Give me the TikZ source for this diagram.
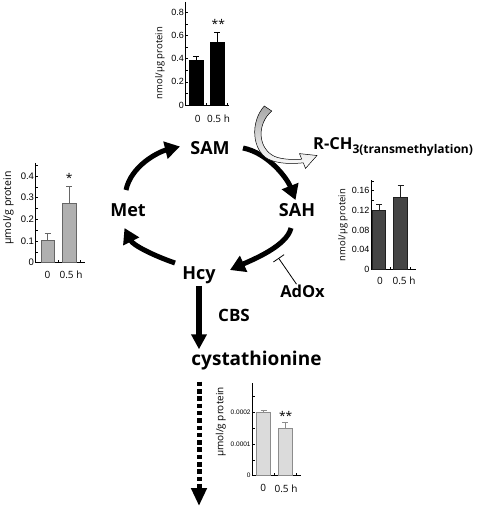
\documentclass[tikz,border=0pt]{standalone}
\usepackage{fontspec}
\setmainfont{Open Sans}
\newfontfamily\tickfont{Liberation Sans}
\usetikzlibrary{arrows.meta}
\definecolor{ftwo}{gray}{0.69}
\definecolor{dtwo}{gray}{0.40}
\definecolor{fthree}{gray}{0.27}
\definecolor{dthree}{gray}{0.12}
\definecolor{ffour}{gray}{0.86}
\definecolor{dfour}{gray}{0.55}
\begin{document}
\begin{tikzpicture}[x=1pt,y=-1pt,
  lbl/.style={font=\bfseries\fontsize{18}{20}\selectfont, inner sep=0pt},
  cyc/.style={line width=5pt, -{Triangle[length=15pt,width=17pt]}},
  downarr/.style={line width=6pt, -{Triangle[length=15pt,width=15pt]}},
  dotarr/.style={line width=5pt, dash pattern=on 4.5pt off 2.8pt, -{Triangle[length=18pt,width=15pt]}},
  inhib/.style={line width=0.8pt, -{Bar[width=13pt,line width=0.8pt]}},
  ax/.style={line width=0.6pt},
  tk/.style={line width=0.5pt},
  tl/.style={font=\tickfont\fontsize{9}{9}\selectfont, anchor=east, inner sep=1.5pt},
  yl/.style={rotate=90, inner sep=0pt},
  xl/.style={font=\fontsize{10}{10}\selectfont, inner sep=0pt},
  sig/.style={font=\fontsize{12}{12}\selectfont, inner sep=0pt},
  eb/.style={line width=0.6pt},
]
\useasboundingbox (0,0) rectangle (480,507);

% ---------- metabolite labels ----------
\node[lbl] (SAM) at (210,148) {SAM};
\node[lbl] (Met) at (128,210) {Met};
\node[lbl] (SAH) at (297,210) {SAH};
\node[lbl] (Hcy) at (199,275) {Hcy};
\node[lbl,font=\bfseries\fontsize{17}{18}\selectfont] (CBS) at (234,315) {CBS};
\node[lbl,font=\bfseries\fontsize{16.5}{18}\selectfont] (AdOx) at (302.5,291.7) {AdOx};
\node[lbl,font=\bfseries\fontsize{19}{20}\selectfont] (cyst) at (256.5,361) {cystathionine};
\node[anchor=base west, inner sep=0pt] (rch) at (313,149.3)
  {{\bfseries\fontsize{16.5}{17}\selectfont R-CH}\raisebox{-4.5pt}{\bfseries\fontsize{12}{13}\selectfont 3(transmethylation)}};

% ---------- cycle ----------
\coordinate (p1) at (126,190);
\coordinate (p2) at (180,146.5);
\coordinate (p3) at (243,148);
\coordinate (p4) at (295.5,200);
\coordinate (p5) at (291,228);
\coordinate (p6) at (230,270);
\coordinate (p7) at (175,263);
\coordinate (p8) at (124.5,228);
\draw[cyc] (p1) .. controls (131,166) and (158,152) .. (p2);
\draw[cyc] (p3) .. controls (268,153) and (287,178) .. (p4);
\draw[cyc] (p5) .. controls (287,246) and (252,260) .. (p6);
\draw[cyc] (p7) .. controls (152,255) and (133,245) .. (p8);

\coordinate (c1) at (Hcy.south |- cyst.north);
\coordinate (c2) at (Hcy.south |- cyst.south);
\coordinate (dotend) at (199,506);
\draw[downarr] ([yshift=-2pt]Hcy.south) -- ([yshift=2pt]c1);
\draw[dotarr] ([yshift=-11pt]c2) -- (dotend);

\coordinate (inh) at (278.5,258);
\draw[inhib] ([xshift=-6pt,yshift=1pt]AdOx.north) -- (inh);

% ---------- transmethylation arrow ----------
\shade[draw=black, line width=0.5pt, top color=gray!70, bottom color=white, middle color=gray!30]
  (264.3,106) .. controls (250,122) and (252,150) .. (268,159)
  .. controls (278,164) and (292,164) .. (303.3,162.8)
  -- (305.5,168.4) -- (317,155.5) -- (299.5,153.6) -- (301.7,159.2)
  .. controls (290,160) and (278,159) .. (272,155)
  .. controls (258,146) and (257,124) .. (271.7,111) -- cycle;

% ---------- chart 1 (SAM) ----------
\begin{scope}[shift={(185.7,105)},x=1pt,y=115.9pt]
  \foreach \v in {0.1,0.2,...,0.81} \draw[tk] (0,\v) -- ++(2.5pt,0pt);
  \foreach \v [count=\i] in {0,0.2,0.4,0.6,0.8} \node[tl] (ka\i) at (0,\v) {\v};
  \draw[ax] (0,0.89) -- (0,0) -- (43,0);
  \draw[tk] (21,0) -- ++(0pt,2.5pt) (41.5,0) -- ++(0pt,2.5pt);
  \draw[eb, fill=black] (3.6,0) rectangle (17.6,0.39);
  \draw[eb, fill=black] (24.3,0) rectangle (38.3,0.54);
  \draw[eb] (10.6,0.39) -- (10.6,0.42) ++(-3pt,0pt) -- ++(6pt,0pt);
  \draw[eb] (31.3,0.54) -- (31.3,0.63) ++(-3pt,0pt) -- ++(6pt,0pt);
\end{scope}
\node[sig] (sa) at (218.3,24) {**};
\node[xl] (xa1) at (197.7,118.7) {0};
\node[xl] (xa2) at (218.5,118.7) {0.5 h};
\node[yl, font=\fontsize{9.5}{10}\selectfont] (ya) at (160,63) {nmol/µg protein};

% ---------- chart 2 (Met) ----------
\begin{scope}[shift={(35.7,262.7)},x=1pt,y=217pt]
  \foreach \v in {0.05,0.1,...,0.451} \draw[tk] (0,\v) -- ++(2.5pt,0pt);
  \foreach \v [count=\i] in {0,0.1,0.2,0.3,0.4} \node[tl,font=\tickfont\fontsize{9.5}{10}\selectfont] (kb\i) at (0,\v) {\v};
  \draw[ax] (0,0.46) -- (0,0) -- (49.3,0);
  \draw[tk] (22.6,0) -- ++(0pt,2.5pt) (44.3,0) -- ++(0pt,2.5pt);
  \draw[eb, draw=dtwo, fill=ftwo] (5.3,0) rectangle (18.6,0.105);
  \draw[eb, draw=dtwo, fill=ftwo] (27,0) rectangle (40.3,0.275);
  \draw[eb, draw=dtwo] (11.95,0.105) -- (11.95,0.135) ++(-3pt,0pt) -- ++(6pt,0pt);
  \draw[eb, draw=dtwo] (33.65,0.275) -- (33.65,0.35) ++(-3pt,0pt) -- ++(6pt,0pt);
\end{scope}
\node[sig] (sb) at (69.3,178) {*};
\node[xl] (xb1) at (47.5,274.5) {0};
\node[xl] (xb2) at (71,274.5) {0.5 h};
\node[yl, font=\fontsize{10.5}{11}\selectfont] (yb) at (8.5,208) {µmol/g protein};

% ---------- chart 3 (SAH) ----------
\begin{scope}[shift={(371,269.3)},x=1pt,y=492pt]
  \foreach \v in {0.02,0.04,...,0.181} \draw[tk] (0,\v) -- ++(2.5pt,0pt);
  \foreach \v [count=\i] in {0,0.04,0.08,0.12,0.16} \node[tl] (kc\i) at (0,\v) {\v};
  \draw[ax] (0,0.181) -- (0,0) -- (45,0);
  \draw[tk] (19.7,0) -- ++(0pt,2.5pt) (39.7,0) -- ++(0pt,2.5pt);
  \draw[eb, draw=dthree, fill=fthree] (1.7,0) rectangle (14.7,0.12);
  \draw[eb, draw=dthree, fill=fthree] (22.3,0) rectangle (36.7,0.147);
  \draw[eb, draw=dthree] (8.2,0.12) -- (8.2,0.133) ++(-3pt,0pt) -- ++(6pt,0pt);
  \draw[eb, draw=dthree] (29.5,0.147) -- (29.5,0.17) ++(-3pt,0pt) -- ++(6pt,0pt);
\end{scope}
\node[xl] (xc1) at (380,280.7) {0};
\node[xl] (xc2) at (404,280.7) {0.5 h};
\node[yl, font=\fontsize{9.5}{10}\selectfont] (yc) at (343,225) {nmol/µg protein};

% ---------- chart 4 (cystathionine) ----------
\begin{scope}[shift={(252.3,475.7)},x=1pt,y=31.7pt]
  \foreach \v in {0.5,1,...,2.6} \draw[tk] (0,\v) -- ++(2.5pt,0pt);
  \node[tl,font=\tickfont\fontsize{6.5}{7}\selectfont] (kd1) at (0,0) {0};
  \node[tl,font=\tickfont\fontsize{6.5}{7}\selectfont] (kd2) at (0,1) {0.0001};
  \node[tl,font=\tickfont\fontsize{6.5}{7}\selectfont] (kd3) at (0,2) {0.0002};
  \draw[ax] (0,2.91) -- (0,0) -- (48.7,0);
  \draw[tk] (22,0) -- ++(0pt,2.5pt) (44.4,0) -- ++(0pt,2.5pt);
  \draw[eb, draw=dfour, fill=ffour] (4.4,0) rectangle (18.4,2.0);
  \draw[eb, draw=dfour, fill=ffour] (26,0) rectangle (40,1.48);
  \draw[eb, draw=dfour] (11.4,2.0) -- (11.4,2.05) ++(-3pt,0pt) -- ++(6pt,0pt);
  \draw[eb, draw=dfour] (33,1.48) -- (33,1.67) ++(-3pt,0pt) -- ++(6pt,0pt);
\end{scope}
\node[sig] (sd) at (285.7,416) {**};
\node[xl] (xd1) at (263.3,488.3) {0};
\node[xl] (xd2) at (286,488.3) {0.5 h};
\node[yl, font=\fontsize{10}{10}\selectfont] (yd) at (220.7,422) {µmol/g protein};
\end{tikzpicture}
\end{document}
